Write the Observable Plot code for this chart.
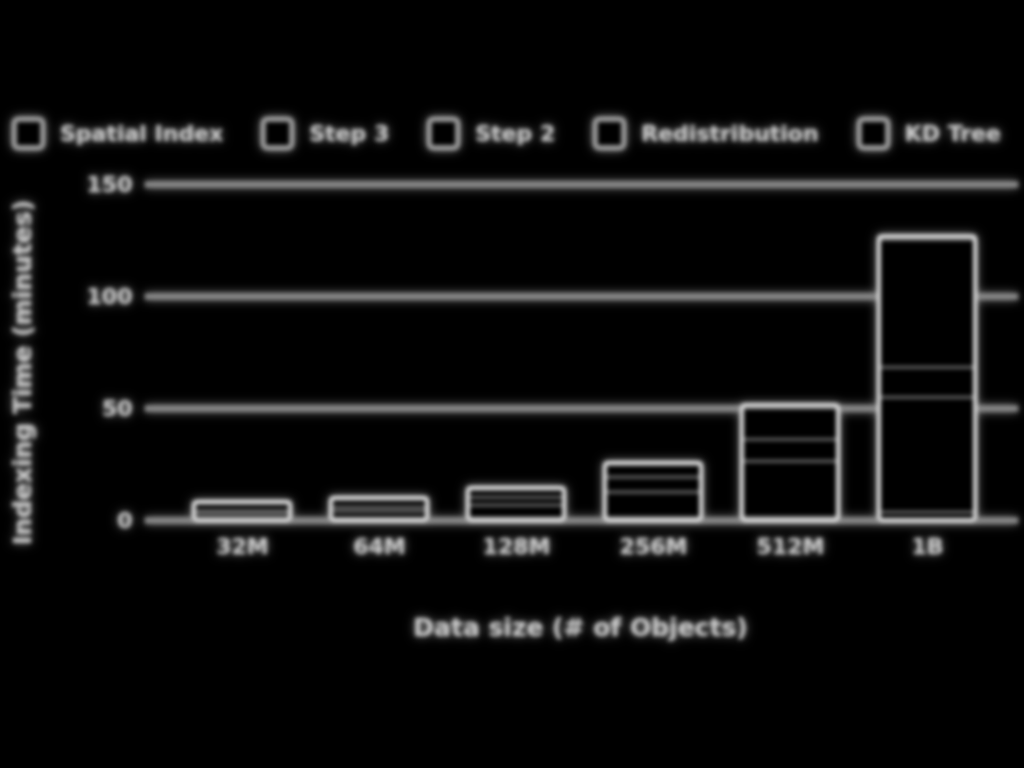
<!DOCTYPE html>
<html><head><meta charset="utf-8">
<script src="https://cdn.jsdelivr.net/npm/d3@7"></script>
<script src="https://cdn.jsdelivr.net/npm/@observablehq/plot@0.6"></script>
<style>
html,body{margin:0;background:#000;}
#wrap{position:relative;width:1024px;height:768px;overflow:hidden;background:transparent;filter: blur(2.2px) drop-shadow(0 0 5px rgba(255,255,255,0.55));font-family:"DejaVu Sans",sans-serif;color:#cccccc;}
#legend{position:absolute;left:12px;top:117px;display:flex;gap:38px;align-items:center;font-size:22px;font-weight:bold;}
.item{display:flex;align-items:center;gap:15px}
.sw{width:23px;height:23px;border:5px solid #9a9a9a;border-radius:6px;background:#000}
#chart{position:absolute;left:0;top:160px}
</style></head><body><div id="wrap"><div id="legend"></div><div id="chart"></div></div>
<script>
const sizes = ["32M","64M","128M","256M","512M","1B"];
const series = ["KD Tree","Redistribution","Step 2","Step 3","Spatial Index"]; // bottom to top
const legendOrder = ["Spatial Index","Step 3","Step 2","Redistribution","KD Tree"];
const kdTree = [0.7,0.8,1,1.2,1.3,3.5];
const redistribution = [2,3,5.7,11.3,25,51.3];
const step2 = [1.5,2,3.5,6.7,9.7,13.4];
const step3 = [3.2,3.4,3.5,5.6,14,57];
const spatialIndex = [0.6,0.6,0.6,0.6,1.2,1.4];
const yTicks = [0,50,100,150];
const yLabel = "Indexing Time (minutes)";
const xLabel = "Data size (# of Objects)";

const valuesBySeries = {"KD Tree":kdTree,"Redistribution":redistribution,"Step 2":step2,"Step 3":step3,"Spatial Index":spatialIndex};
const table = [];
for (const s of series) sizes.forEach((sz,i)=>table.push({size:sz, series:s, value:valuesBySeries[s][i]}));

const legend = document.getElementById("legend");
for (const s of legendOrder) {
  const it = document.createElement("div"); it.className="item";
  const sw = document.createElement("div"); sw.className="sw";
  const t = document.createElement("span"); t.textContent = s;
  it.append(sw,t); legend.append(it);
}

const chart = Plot.plot({
  width:1024, height:500,
  marginTop:24, marginBottom:140, marginLeft:150, marginRight:6,
  style:{background:"transparent", color:"#cccccc", fontSize:"22px", fontWeight:"bold", fontFamily:"DejaVu Sans, sans-serif", overflow:"visible"},
  x:{domain:sizes, padding:0.3},
  y:{domain:[0,150]},
  marks:[
    Plot.ruleY(yTicks, {stroke:"#8a8a8a", strokeWidth:6, insetLeft:-5}),
    Plot.barY(table, {x:"size", y:"value", z:"series", fill:"#000", stroke:"#666", strokeWidth:3}),
    Plot.barY(table, Plot.groupX({y:"sum"}, {x:"size", y:"value", fill:"none", stroke:"#e0e0e0", strokeWidth:4, rx:3})),
    Plot.axisX({tickSize:0, tickPadding:18, label:null, fontSize:22}),
    Plot.axisY(yTicks, {tickSize:0, tickPadding:18, label:null, fontSize:22}),
    Plot.text([yLabel], {text:d=>d, frameAnchor:"left", textAnchor:"middle", dx:-128, dy:20, rotate:-90, fontSize:25, fontWeight:"bold", fill:"#cccccc"}),
    Plot.text([xLabel], {text:d=>d, frameAnchor:"bottom", textAnchor:"middle", dy:115, dx:-4, fontSize:25, fontWeight:"bold", fill:"#cccccc"})
  ]
});
document.getElementById("chart").append(chart);
</script></body></html>
